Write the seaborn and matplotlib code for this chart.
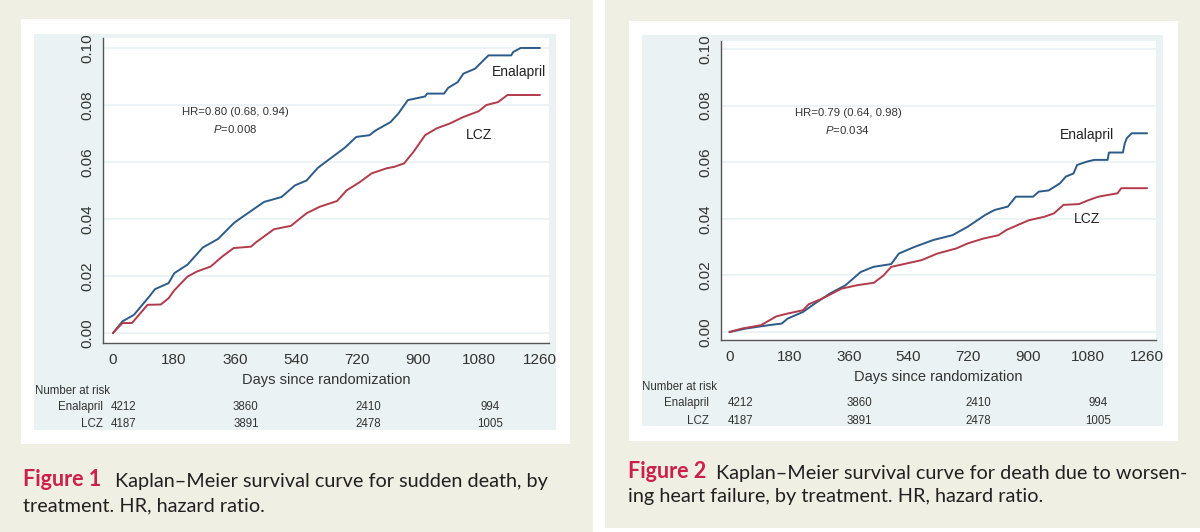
import matplotlib
matplotlib.use("Agg")
import matplotlib.pyplot as plt
import matplotlib.transforms as mtrans
from matplotlib.patches import Rectangle
import numpy as np
import pandas as pd
import seaborn as sns

# ---------------- data ----------------
days_ticks = [0, 180, 360, 540, 720, 900, 1080, 1260]
y_ticks = [0.00, 0.02, 0.04, 0.06, 0.08, 0.10]
y_tick_labels = ["0.00", "0.02", "0.04", "0.06", "0.08", "0.10"]
groups = ["Enalapril", "LCZ"]
risk_days = [0, 360, 720, 1080]
risk_enalapril = [4212, 3860, 2410, 994]
risk_lcz = [4187, 3891, 2478, 1005]

# Figure 1: sudden death
sd_enal_days = [0, 28, 62, 107, 124, 164, 181, 220, 265, 310, 356, 373, 446, 497, 537, 571,
                605, 650, 684, 718, 757, 774, 819, 842, 870, 921, 927, 977, 989, 1017, 1034,
                1068, 1108, 1175, 1181, 1203, 1260]
sd_enal = [0, 0.0041, 0.0064, 0.0128, 0.0154, 0.0175, 0.021, 0.024, 0.030, 0.033, 0.0385,
           0.040, 0.046, 0.0477, 0.0518, 0.0535, 0.058, 0.062, 0.065, 0.0688, 0.0694, 0.071,
           0.074, 0.077, 0.0817, 0.083, 0.084, 0.084, 0.086, 0.088, 0.091, 0.0927, 0.0974,
           0.0974, 0.0986, 0.100, 0.100]
sd_lcz_days = [0, 28, 56, 102, 141, 164, 181, 220, 248, 288, 322, 356, 407, 424, 475, 525,
               571, 610, 661, 689, 729, 763, 808, 830, 859, 887, 921, 955, 994, 1034, 1079,
               1102, 1136, 1164, 1260]
sd_lcz = [0, 0.0035, 0.0035, 0.0099, 0.010, 0.0122, 0.015, 0.0198, 0.0216, 0.0233, 0.0268,
          0.0298, 0.0303, 0.032, 0.0364, 0.0376, 0.042, 0.0443, 0.0463, 0.050, 0.053, 0.056,
          0.0578, 0.0583, 0.0595, 0.0636, 0.0694, 0.0718, 0.0735, 0.0758, 0.0778, 0.080,
          0.081, 0.0835, 0.0835]

# Figure 2: death due to worsening heart failure
hf_enal_days = [0, 49, 118, 158, 175, 222, 257, 303, 350, 396, 434, 488, 511, 557, 615, 673,
                719, 771, 800, 840, 864, 916, 934, 963, 997, 1015, 1038, 1049, 1079, 1101,
                1141, 1145, 1187, 1193, 1199, 1214, 1260]
hf_enal = [0, 0.0012, 0.0024, 0.003, 0.0047, 0.0071, 0.010, 0.0136, 0.0165, 0.0212, 0.023,
           0.024, 0.0277, 0.030, 0.0325, 0.0342, 0.0372, 0.0413, 0.0431, 0.0443, 0.0478,
           0.0478, 0.0496, 0.050, 0.0525, 0.0549, 0.056, 0.059, 0.0602, 0.0608, 0.0608,
           0.0634, 0.0634, 0.0667, 0.0685, 0.0702, 0.0702]
hf_lcz_days = [0, 37, 95, 141, 175, 222, 239, 280, 338, 384, 436, 465, 488, 534, 580, 627,
               684, 719, 766, 812, 835, 870, 904, 950, 979, 1008, 1055, 1084, 1113, 1171,
               1182, 1260]
hf_lcz = [0, 0.0012, 0.0024, 0.0055, 0.0065, 0.0077, 0.0098, 0.0118, 0.0153, 0.0165, 0.0174,
          0.020, 0.023, 0.0242, 0.0254, 0.0277, 0.0295, 0.0313, 0.033, 0.0342, 0.036, 0.0378,
          0.0395, 0.0407, 0.0419, 0.0449, 0.0452, 0.0466, 0.0478, 0.049, 0.0508, 0.0508]

hr_text = ["HR=0.80 (0.68, 0.94)", "HR=0.79 (0.64, 0.98)"]
p_text = ["0.008", "0.034"]
captions = [
    ("Figure 1", "Kaplan\u2013Meier survival curve for sudden death, by", "treatment. HR, hazard ratio."),
    ("Figure 2", "Kaplan\u2013Meier survival curve for death due to worsen-", "ing heart failure, by treatment. HR, hazard ratio."),
]

# ---------------- style ----------------
sns.set_style("white")
plt.rcParams["font.family"] = ["Liberation Sans", "DejaVu Sans"]
plt.rcParams["mathtext.fontset"] = "custom"
plt.rcParams["mathtext.it"] = "Liberation Sans:italic"
plt.rcParams["mathtext.rm"] = "Liberation Sans"

W, H = 1200, 532
fig = plt.figure(figsize=(12, 5.32), dpi=100)
fig.patch.set_facecolor("white")

BEIGE = "#f0efe4"
PANEL = "#eaf2f3"
BLUE = "#2c5b8a"
RED = "#b23b4b"
TXT = "#333333"

bg = fig.add_axes([0, 0, 1, 1], zorder=-5)
bg.set_xlim(0, W)
bg.set_ylim(H, 0)
bg.axis("off")


def rect(x0, y0, x1, y1, color):
    bg.add_patch(Rectangle((x0, y0), x1 - x0, y1 - y0, facecolor=color, edgecolor="none"))


rect(0, 0, 593, 532, BEIGE)
rect(605, 0, 1200, 528, BEIGE)
rect(21, 19, 570, 444, "white")
rect(34, 34, 556, 430, PANEL)
rect(629, 21, 1178, 441, "white")
rect(642, 35, 1163, 426, PANEL)


def px_axes(x0, y0, x1, y1):
    return fig.add_axes([x0 / W, 1 - y1 / H, (x1 - x0) / W, (y1 - y0) / H])


panels = [
    dict(box=(103, 38, 549, 343), xlim=(-29.5, 1286.6), ylim=(-0.0035, 0.1035),
         enal=(sd_enal_days, sd_enal), lcz=(sd_lcz_days, sd_lcz),
         hr_xy=(360, 0.0775), p_xy=(361, 0.0716),
         enal_lab=(1199, 0.0916), lcz_lab=(1080, 0.0695),
         nar=(35, 391), rows=(407, 424), rowlab_x=103, xlabel_y=380,
         cap_x=23, cap_y=(486, 511), cap_gap=10),
    dict(box=(721, 41, 1156, 340), xlim=(-25.6, 1287), ylim=(-0.00283, 0.1028),
         enal=(hf_enal_days, hf_enal), lcz=(hf_lcz_days, hf_lcz),
         hr_xy=(358, 0.0774), p_xy=(355, 0.0714),
         enal_lab=(1079, 0.0696), lcz_lab=(1079, 0.040),
         nar=(642, 387), rows=(403, 421), rowlab_x=709, xlabel_y=377,
         cap_x=628, cap_y=(478, 502), cap_gap=7),
]

CAP_FONT = ["Lato", "DejaVu Sans"]

for i, p in enumerate(panels):
    ax = px_axes(*p["box"])
    ax.set_facecolor("white")
    df = pd.concat([
        pd.DataFrame({"day": p["enal"][0], "risk": p["enal"][1], "group": groups[0]}),
        pd.DataFrame({"day": p["lcz"][0], "risk": p["lcz"][1], "group": groups[1]}),
    ], ignore_index=True)
    sns.lineplot(data=df, x="day", y="risk", hue="group", hue_order=groups,
                 palette={groups[0]: BLUE, groups[1]: RED}, estimator=None, sort=False,
                 linewidth=1.4, legend=False, ax=ax, zorder=3)
    ax.set_xlim(*p["xlim"])
    ax.set_ylim(*p["ylim"])
    ax.set_xticks(days_ticks)
    ax.set_xticklabels([str(d) for d in days_ticks])
    ax.set_yticks(y_ticks)
    ax.set_yticklabels(y_tick_labels, rotation=90, va="center")
    for yv in y_ticks:
        ax.axhline(yv, color=PANEL, lw=1.3, zorder=1)
    ax.grid(False)
    for s in ["top", "right"]:
        ax.spines[s].set_visible(False)
    for s in ["left", "bottom"]:
        ax.spines[s].set_color("#555555")
        ax.spines[s].set_linewidth(1.0)
    ax.tick_params(axis="both", which="major", direction="out", length=5, width=0.9,
                   color="#555555", labelsize=11, labelcolor=TXT)
    ax.tick_params(axis="x", pad=2.5)
    ax.tick_params(axis="y", pad=1.5)
    ax.set_ylabel("")
    ax.set_xlabel("")

    # x label
    fig.text((p["box"][0] + p["box"][2]) / 2 / W, 1 - p["xlabel_y"] / H,
             "Days since randomization", ha="center", va="center", fontsize=10.5, color=TXT)

    # annotations
    ax.text(*p["hr_xy"], hr_text[i], ha="center", va="center", fontsize=8.2, color=TXT)
    ax.text(*p["p_xy"], "$P$=" + p_text[i], ha="center", va="center", fontsize=8.2, color=TXT)
    ax.text(*p["enal_lab"], groups[0], ha="center", va="center", fontsize=10, color="#222222")
    ax.text(*p["lcz_lab"], groups[1], ha="center", va="center", fontsize=10, color="#222222")

    # number at risk
    fig.text(p["nar"][0] / W, 1 - p["nar"][1] / H, "Number at risk", ha="left", va="center",
             fontsize=8.3, color=TXT)
    tr = mtrans.blended_transform_factory(ax.transData, fig.transFigure)
    for row_y, name, vals in zip(p["rows"], groups, [risk_enalapril, risk_lcz]):
        fig.text(p["rowlab_x"] / W, 1 - row_y / H, name, ha="right", va="center",
                 fontsize=8.3, color=TXT)
        for d, v in zip(risk_days, vals):
            ax.text(d + 32, 1 - row_y / H, str(v), transform=tr, ha="center", va="center",
                    fontsize=8.3, color=TXT, clip_on=False)

    # caption
    cap_bold, cap_rest, cap_line2 = captions[i]
    t1 = bg.text(p["cap_x"], p["cap_y"][0], cap_bold, ha="left", va="baseline",
                 fontsize=15.5, fontweight="bold", color="#cc1f4a", family=CAP_FONT)
    bg.annotate(cap_rest, xy=(1, 0), xycoords=t1, xytext=(p["cap_gap"], 0),
                textcoords="offset points", ha="left", va="bottom", fontsize=14.3,
                color="#231f20", family=CAP_FONT)
    bg.text(p["cap_x"], p["cap_y"][1], cap_line2, ha="left", va="baseline", fontsize=14.3,
            color="#231f20", family=CAP_FONT)

fig.savefig("out.png", dpi=100, facecolor=fig.get_facecolor())
